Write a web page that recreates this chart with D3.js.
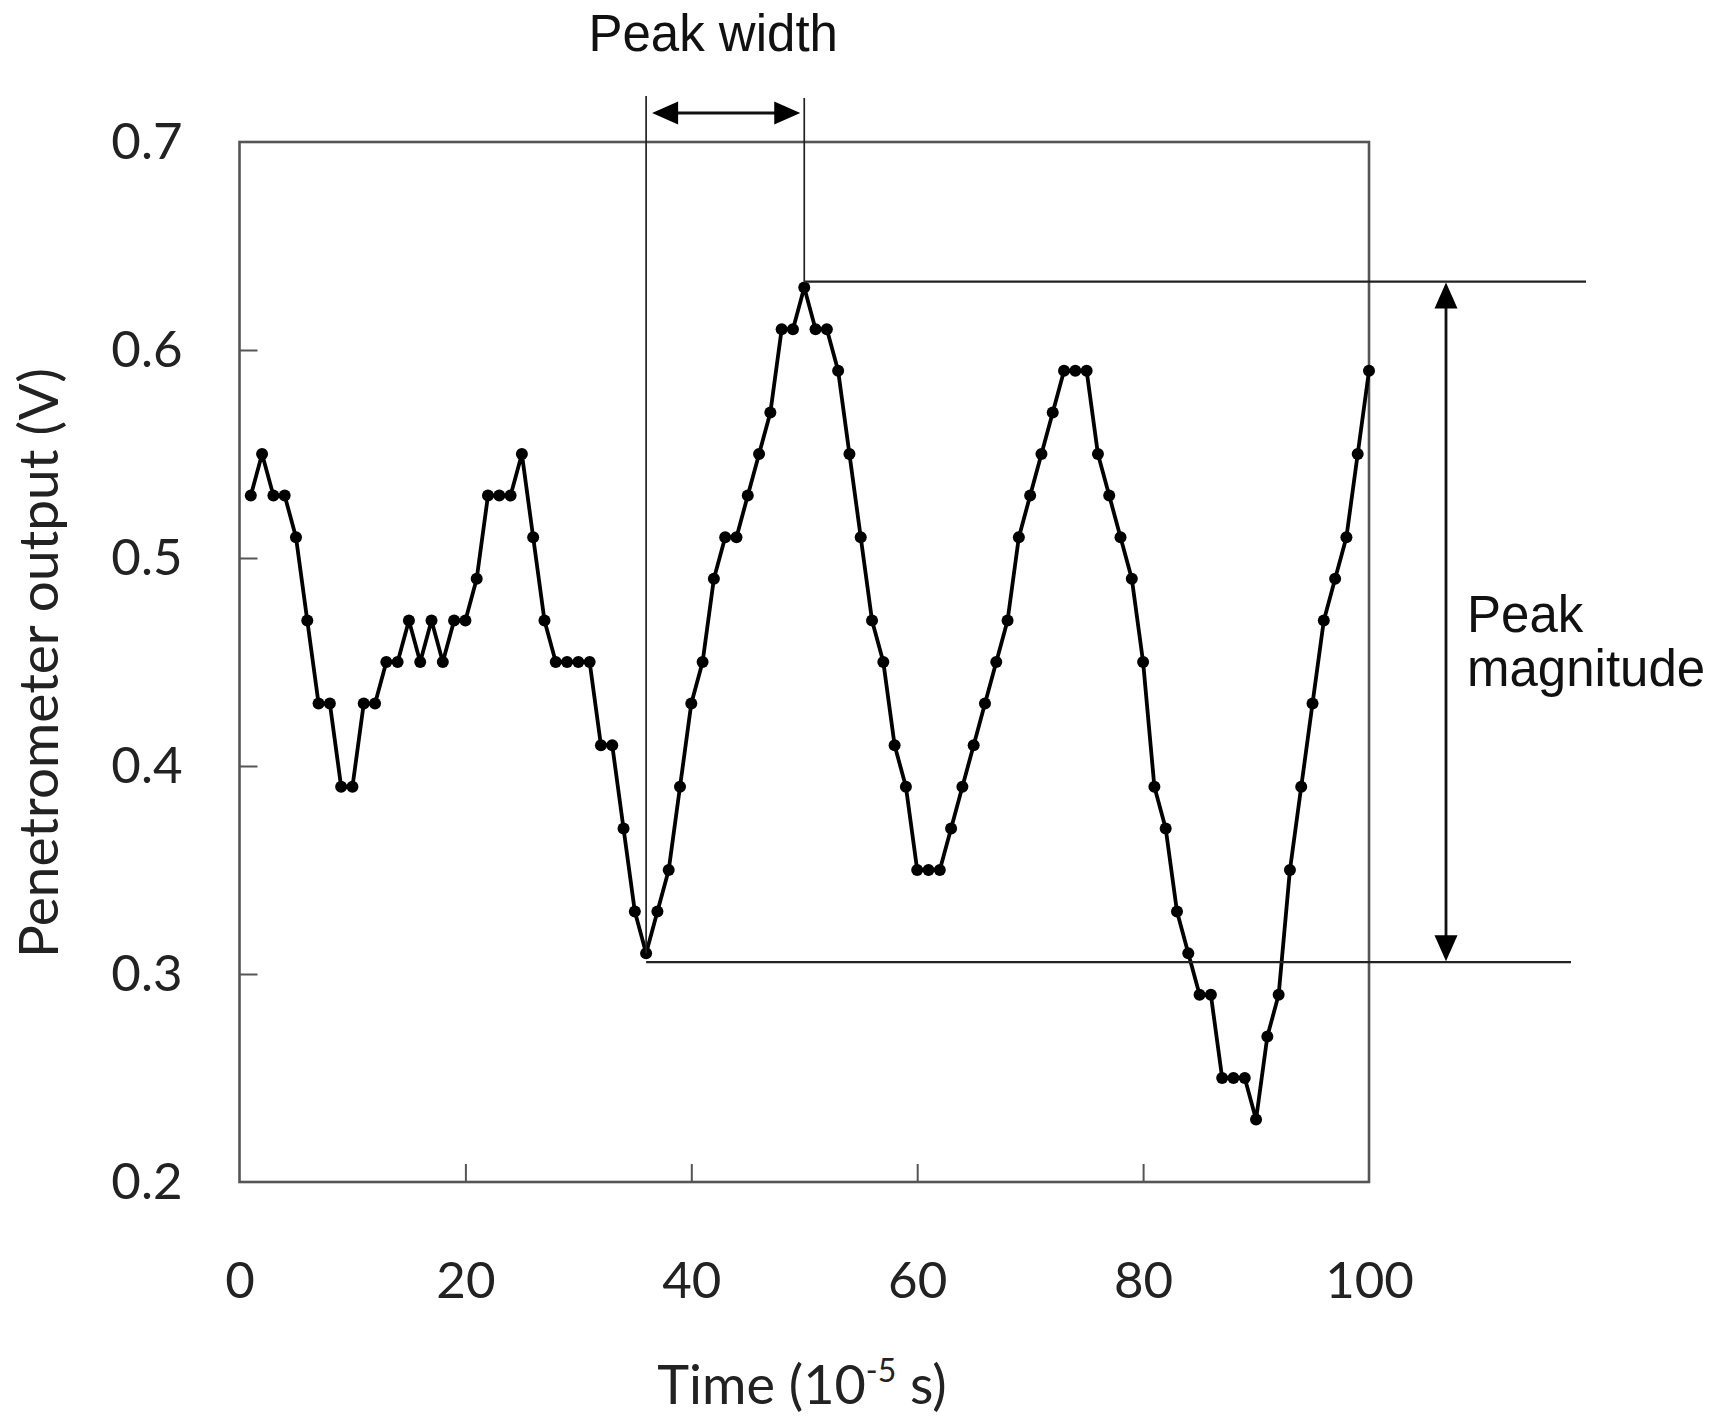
<!DOCTYPE html>
<html>
<head>
<meta charset="utf-8">
<script src="https://cdn.jsdelivr.net/npm/d3@7"></script>
<style>
  html, body { margin: 0; padding: 0; background: #fff; }
  svg { display: block; }
</style>
</head>
<body>
<svg id="chart" width="1720" height="1418"></svg>
<script>
// Penetrometer output sampled every 1 × 10^-5 s
const times = d3.range(1, 101);
const outputs = [
  0.53, 0.55, 0.53, 0.53, 0.51, 0.47, 0.43, 0.43, 0.39, 0.39,
  0.43, 0.43, 0.45, 0.45, 0.47, 0.45, 0.47, 0.45, 0.47, 0.47,
  0.49, 0.53, 0.53, 0.53, 0.55, 0.51, 0.47, 0.45, 0.45, 0.45,
  0.45, 0.41, 0.41, 0.37, 0.33, 0.31, 0.33, 0.35, 0.39, 0.43,
  0.45, 0.49, 0.51, 0.51, 0.53, 0.55, 0.57, 0.61, 0.61, 0.63,
  0.61, 0.61, 0.59, 0.55, 0.51, 0.47, 0.45, 0.41, 0.39, 0.35,
  0.35, 0.35, 0.37, 0.39, 0.41, 0.43, 0.45, 0.47, 0.51, 0.53,
  0.55, 0.57, 0.59, 0.59, 0.59, 0.55, 0.53, 0.51, 0.49, 0.45,
  0.39, 0.37, 0.33, 0.31, 0.29, 0.29, 0.25, 0.25, 0.25, 0.23,
  0.27, 0.29, 0.35, 0.39, 0.43, 0.47, 0.49, 0.51, 0.55, 0.59
];
const xTicks = [0, 20, 40, 60, 80, 100];
const yTicks = [0.2, 0.3, 0.4, 0.5, 0.6, 0.7];

// The peak being measured: trough at t = 36, crest at t = 50
const troughTime = 36;
const crestTime = 50;

const svg = d3.select("#chart");
const plot = { left: 239.5, right: 1369, top: 142, bottom: 1182 };

const x = d3.scaleLinear().domain([0, 100]).range([plot.left, plot.right]);
const y = d3.scaleLinear().domain([0.2, 0.7]).range([plot.bottom, plot.top]);

const axisColor = "#555";
const tickFont = "Lato, 'Open Sans', sans-serif";
const noteFont = "'Liberation Sans', Arial, sans-serif";

// Axes with inward ticks
const xAxis = svg.append("g")
  .attr("transform", `translate(0,${plot.bottom})`)
  .call(d3.axisBottom(x).tickValues(xTicks).tickSizeInner(-18).tickSizeOuter(0).tickPadding(80));
const yAxis = svg.append("g")
  .attr("transform", `translate(${plot.left},0)`)
  .call(d3.axisLeft(y).tickValues(yTicks).tickFormat(d3.format(".1f")).tickSizeInner(-18).tickSizeOuter(0).tickPadding(57));

[xAxis, yAxis].forEach(g => {
  g.select(".domain").remove();
  g.selectAll(".tick line").attr("stroke", axisColor).attr("stroke-width", 2);
  g.selectAll(".tick text")
    .attr("fill", "#222")
    .style("font-family", tickFont)
    .style("font-size", "51px");
});
yAxis.selectAll(".tick").filter(d => d === 0.2 || d === 0.7).select("line").remove();
xAxis.selectAll(".tick").filter(d => d === 0 || d === 100).select("line").remove();

// Plot frame
svg.append("rect")
  .attr("x", plot.left).attr("y", plot.top)
  .attr("width", plot.right - plot.left).attr("height", plot.bottom - plot.top)
  .attr("fill", "none").attr("stroke", axisColor).attr("stroke-width", 2.6);

// Axis titles
const xTitle = svg.append("text")
  .attr("x", 802).attr("y", 1404)
  .attr("text-anchor", "middle")
  .attr("fill", "#222")
  .style("font-family", tickFont).style("font-size", "54px");
xTitle.append("tspan").text("Time (10");
xTitle.append("tspan").attr("dy", -22).style("font-size", "32px").text("-5");
xTitle.append("tspan").attr("dy", 22).text(" s)");

svg.append("text")
  .attr("transform", "translate(58,663) rotate(-90)")
  .attr("text-anchor", "middle")
  .attr("fill", "#222")
  .style("font-family", tickFont).style("font-size", "55px")
  .text("Penetrometer output (V)");

// Data series
const series = times.map((t, i) => ({ t, v: outputs[i] }));
svg.append("path")
  .datum(series)
  .attr("fill", "none").attr("stroke", "#000").attr("stroke-width", 3.8)
  .attr("stroke-linejoin", "round")
  .attr("d", d3.line().x(d => x(d.t)).y(d => y(d.v)));
svg.append("g").selectAll("circle")
  .data(series).join("circle")
  .attr("cx", d => x(d.t)).attr("cy", d => y(d.v)).attr("r", 6)
  .attr("fill", "#000");

// Peak annotations
const troughV = outputs[times.indexOf(troughTime)];
const crestV = outputs[times.indexOf(crestTime)];
const xTrough = x(troughTime);
const xCrest = x(crestTime);
const yCrestLine = y(crestV) - 6;
const yTroughLine = y(troughV) + 9;
const noteColor = "#222";

const notes = svg.append("g").attr("stroke", noteColor).attr("fill", "none");
// vertical guides at trough and crest
notes.append("line").attr("x1", xTrough).attr("x2", xTrough).attr("y1", 96).attr("y2", y(troughV)).attr("stroke-width", 1.7);
notes.append("line").attr("x1", xCrest).attr("x2", xCrest).attr("y1", 98).attr("y2", yCrestLine).attr("stroke-width", 1.7);
// horizontal guides at crest and trough levels
notes.append("line").attr("x1", xCrest).attr("x2", plot.right + 217).attr("y1", yCrestLine).attr("y2", yCrestLine).attr("stroke-width", 2.2);
notes.append("line").attr("x1", xTrough).attr("x2", plot.right + 202).attr("y1", yTroughLine).attr("y2", yTroughLine).attr("stroke-width", 2.2);

// double-headed arrows
function arrow(x1, y1, x2, y2) {
  const len = 26, half = 11.5;
  const dx = x2 - x1, dy = y2 - y1, L = Math.hypot(dx, dy);
  const ux = dx / L, uy = dy / L, px = -uy, py = ux;
  svg.append("line")
    .attr("x1", x1 + ux * len * 0.8).attr("y1", y1 + uy * len * 0.8)
    .attr("x2", x2 - ux * len * 0.8).attr("y2", y2 - uy * len * 0.8)
    .attr("stroke", "#111").attr("stroke-width", 2.8);
  const head = (tx, ty, sx, sy) => {
    const bx = tx - sx * len, by = ty - sy * len;
    return `M${tx},${ty}L${bx + px * half},${by + py * half}L${bx - px * half},${by - py * half}Z`;
  };
  svg.append("path").attr("d", head(x2, y2, ux, uy)).attr("fill", "#000");
  svg.append("path").attr("d", head(x1, y1, -ux, -uy)).attr("fill", "#000");
}
arrow(xTrough + 6, 113, xCrest - 4, 113);
const xMag = plot.right + 77;
arrow(xMag, yCrestLine + 1, xMag, yTroughLine - 1);

svg.append("text")
  .attr("x", (xTrough + xCrest) / 2 - 12).attr("y", 51)
  .attr("text-anchor", "middle").attr("fill", "#111")
  .style("font-family", noteFont).style("font-size", "51px")
  .text("Peak width");

const magLabel = svg.append("text")
  .attr("fill", "#111")
  .style("font-family", noteFont).style("font-size", "51px");
magLabel.append("tspan").attr("x", plot.right + 98).attr("y", 632).text("Peak");
magLabel.append("tspan").attr("x", plot.right + 98).attr("y", 686).text("magnitude");
</script>
</body>
</html>
